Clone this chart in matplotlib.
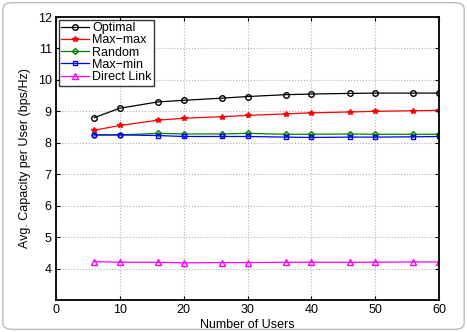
import matplotlib
matplotlib.use("Agg")
import matplotlib.pyplot as plt
from matplotlib.patches import FancyBboxPatch

plt.rcParams['font.family'] = ['Liberation Sans', 'DejaVu Sans']

users = [6, 10, 16, 20, 26, 30, 36, 40, 46, 50, 56, 60]
optimal = [8.80, 9.10, 9.30, 9.35, 9.42, 9.47, 9.53, 9.55, 9.57, 9.58, 9.58, 9.58]
maxmax = [8.40, 8.55, 8.72, 8.78, 8.83, 8.87, 8.92, 8.95, 8.98, 9.00, 9.02, 9.03]
random_ = [8.25, 8.25, 8.30, 8.28, 8.28, 8.30, 8.27, 8.27, 8.28, 8.27, 8.27, 8.27]
maxmin = [8.25, 8.25, 8.23, 8.20, 8.20, 8.20, 8.18, 8.17, 8.18, 8.18, 8.19, 8.20]
direct = [4.22, 4.20, 4.20, 4.18, 4.19, 4.19, 4.20, 4.20, 4.20, 4.20, 4.21, 4.21]
xticks = [0, 10, 20, 30, 40, 50, 60]
yticks = [4, 5, 6, 7, 8, 9, 10, 11, 12]

fig = plt.figure(figsize=(4.67, 3.32), dpi=100)
ax = fig.add_axes([56/467, 1-300/332, (439-56)/467, (300-17)/332])

ax.plot(users, optimal, color='black', marker='o', ms=4, mfc='none', lw=0.9, label='Optimal')
ax.plot(users, maxmax, color='red', marker='*', ms=4, lw=0.9, label='Max\u2212max')
ax.plot(users, random_, color='green', marker='D', ms=3, mfc='none', lw=0.9, label='Random')
ax.plot(users, maxmin, color='blue', marker='s', ms=3.5, mfc='none', lw=0.9, label='Max\u2212min')
ax.plot(users, direct, color='magenta', marker='^', ms=4, mfc='none', lw=0.9, label='Direct Link')

ax.set_xlim(0, 60)
ax.set_ylim(3, 12)
ax.set_xticks(xticks)
ax.set_yticks(yticks)
ax.tick_params(direction='in', top=True, right=True, labelsize=9, length=3, pad=3)
ax.grid(True, linestyle=':', color='#b0b0b0', lw=0.8)
for s in ax.spines.values():
    s.set_linewidth(1.3)
ax.set_xlabel('Number of Users', fontsize=9, labelpad=2)
ax.set_ylabel('Avg. Capacity per User (bps/Hz)', fontsize=9, labelpad=5)

leg = ax.legend(loc='upper left', fontsize=9, frameon=True, fancybox=False,
                edgecolor='black', borderpad=0.2, labelspacing=0.02,
                handlelength=2.2, handletextpad=0.3, borderaxespad=0.2)
leg.get_frame().set_linewidth(1.0)

fig.patches.append(FancyBboxPatch((0.006, 0.008), 0.988, 0.984, transform=fig.transFigure,
                                  boxstyle='round,pad=0,rounding_size=0.02',
                                  fill=False, edgecolor='#bbbbbb', lw=1))
fig.savefig('out.png', dpi=100)
